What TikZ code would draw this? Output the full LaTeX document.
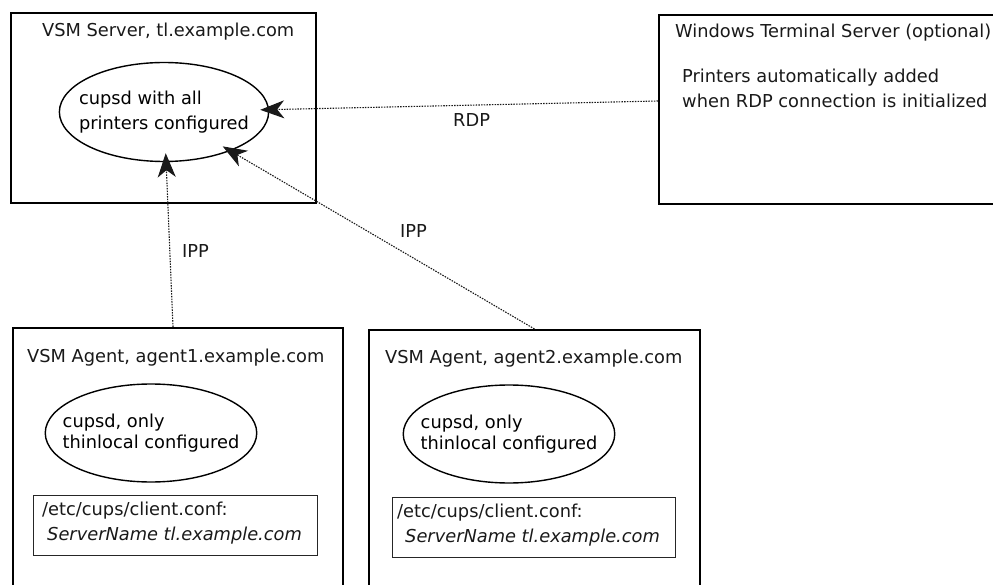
\documentclass[tikz,border=0pt]{standalone}
\usepackage{fontspec}
\setmainfont{DejaVu Sans}
\usepackage{tikz}
\usetikzlibrary{shapes}
\usetikzlibrary{arrows.meta}
\tikzstyle{Host}=[draw=black,line width=2pt,anchor=north west,inner sep=0pt]
\tikzstyle{Conf}=[draw=black!85,line width=1.3pt,anchor=north west,
inner sep=0pt]
\tikzstyle{Daemon}=[ellipse,draw=black,line width=1.4pt,inner ysep=0pt,
align=left,font=\fontsize{17.8}{25}\selectfont]
\tikzstyle{Txt}=[anchor=base west,inner sep=0pt,
font=\fontsize{17.8}{21}\selectfont,text=black!90]
\tikzset{>={Stealth[length=24pt,width=18pt,inset=7pt]}}
\tikzstyle{Link}=[draw=black!90,line width=1.1pt,dash pattern=on 1.5pt off 1.2pt,
->,shorten >=-9pt]

\begin{document}
\begin{tikzpicture}[x=1pt,y=-1pt]
        \useasboundingbox(0,0)rectangle(993,585);
        \node[Host,minimum width=305pt,minimum height=190pt](srv)at(10,12){};
        \node[Host,minimum width=400pt,minimum height=189pt](win)at(658,14){};
        \node[Host,minimum width=330pt,minimum height=300pt](ag1)at(12,327){};
        \node[Host,minimum width=331pt,minimum height=300pt](ag2)at(368,329){};
        \node[Conf,minimum width=284pt,minimum height=60pt](conf1)at(33,495){};
        \node[Conf,minimum width=283pt,minimum height=60pt](conf2)at(392,497){};
        \node[Txt](srvT)at(42,37){VSM Server, tl.example.com};
        \node[Txt](winT)at(675,38){Windows Terminal Server (optional)};
        \node[Txt](winA)at(682,83){Printers automatically added};
        \node[Txt](winB)at(682,108){when RDP connection is initialized};
        \node[Txt](ag1T)at(27,362){VSM Agent, agent1.example.com};
        \node[Txt](ag2T)at(385,363){VSM Agent, agent2.example.com};
        \node[Txt](conf1A)at(42,515){/etc/cups/client.conf:};
        \node[Txt](conf1B)at(47,540){\itshape ServerName tl.example.com};
        \node[Txt](conf2A)at(397,517){/etc/cups/client.conf:};
        \node[Txt](conf2B)at(405,542){\itshape ServerName tl.example.com};
        \node[Daemon,inner xsep=-11pt,minimum height=99pt](cups)
            at(164,112){cupsd with all\\printers configured};
        \node[Daemon,inner xsep=-13.5pt,minimum height=98pt,
            font=\fontsize{17.8}{21}\selectfont](cups1)
            at(151,433){cupsd, only\\thinlocal configured};
        \node[Daemon,inner xsep=-13.5pt,minimum height=98pt,
            font=\fontsize{17.8}{21}\selectfont](cups2)
            at(509,434){cupsd, only\\thinlocal configured};
        \node[Txt](rdp)at(453,127){RDP};
        \node[Txt](ipp1)at(182,258){IPP};
        \node[Txt](ipp2)at(400,238){IPP};
        \draw[Link]([yshift=8.5pt]win.west)--(cups);
        \draw[Link]([xshift=-5pt]ag1.north)--(cups);
        \draw[Link](ag2.north)--(cups);
    \end{tikzpicture}
\end{document}
